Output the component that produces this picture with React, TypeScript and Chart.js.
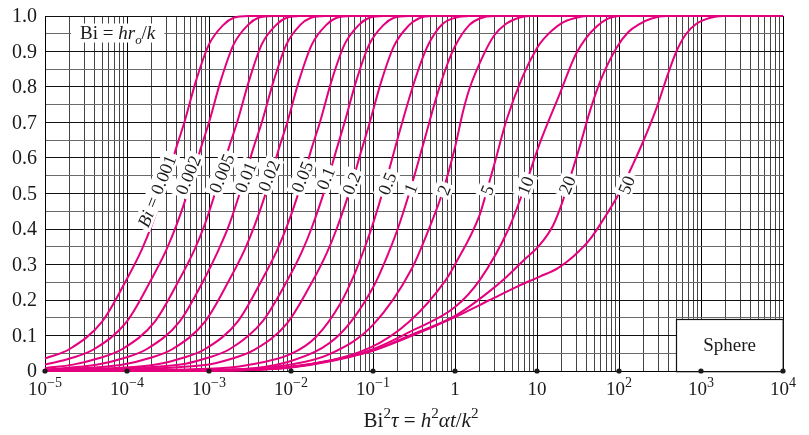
import React, { useEffect, useRef } from 'react';
import { Chart, registerables } from 'chart.js';

Chart.register(...registerables);

// ---------------- data ----------------
const biValues = ['0.001', '0.002', '0.005', '0.01', '0.02', '0.05', '0.1', '0.2', '0.5', '1', '2', '5', '10', '20', '50'];

const curveBi0_001: [number, number][] = [[1e-5, 0.035], [2e-5, 0.062], [5e-5, 0.14], [1e-4, 0.26], [1.5e-4, 0.34], [2e-4, 0.41], [3e-4, 0.53], [4e-4, 0.63], [5e-4, 0.70], [7e-4, 0.82], [1e-3, 0.92], [1.5e-3, 0.975], [2e-3, 0.995], [3e-3, 1], [1e4, 1]];
const curveBi0_002: [number, number][] = [[1e-5, 0.018], [2e-5, 0.035], [4e-5, 0.062], [1e-4, 0.14], [2e-4, 0.26], [3e-4, 0.34], [4e-4, 0.41], [6e-4, 0.53], [8e-4, 0.63], [1e-3, 0.70], [1.4e-3, 0.82], [2e-3, 0.92], [3e-3, 0.975], [4e-3, 0.995], [6e-3, 1], [1e4, 1]];
const curveBi0_005: [number, number][] = [[1e-5, 0.008], [2.2e-5, 0.018], [4.4e-5, 0.035], [8.8e-5, 0.062], [2.2e-4, 0.14], [4.4e-4, 0.26], [6.6e-4, 0.34], [8.8e-4, 0.41], [1.3e-3, 0.53], [1.75e-3, 0.63], [2.2e-3, 0.70], [3.1e-3, 0.82], [4.4e-3, 0.92], [6.6e-3, 0.975], [8.8e-3, 0.995], [1.3e-2, 1], [1e4, 1]];
const curveBi0_01: [number, number][] = [[1e-5, 0.004], [4.4e-5, 0.018], [8.8e-5, 0.035], [1.75e-4, 0.062], [4.4e-4, 0.14], [8.8e-4, 0.26], [1.3e-3, 0.34], [1.75e-3, 0.41], [2.6e-3, 0.53], [3.5e-3, 0.63], [4.4e-3, 0.70], [6.2e-3, 0.82], [8.8e-3, 0.92], [1.3e-2, 0.975], [1.75e-2, 0.995], [2.6e-2, 1], [1e4, 1]];
const curveBi0_02: [number, number][] = [[1e-5, 0.002], [9e-5, 0.018], [1.8e-4, 0.035], [3.6e-4, 0.062], [9e-4, 0.14], [1.8e-3, 0.26], [2.7e-3, 0.34], [3.6e-3, 0.41], [5.4e-3, 0.53], [7.2e-3, 0.63], [9e-3, 0.70], [1.26e-2, 0.82], [1.8e-2, 0.92], [2.7e-2, 0.975], [3.6e-2, 0.995], [5.4e-2, 1], [1e4, 1]];
const curveBi0_05: [number, number][] = [[1e-5, 0.001], [2.25e-4, 0.018], [4.5e-4, 0.035], [9e-4, 0.062], [2.25e-3, 0.14], [4.5e-3, 0.26], [6.75e-3, 0.34], [9e-3, 0.41], [1.35e-2, 0.53], [1.8e-2, 0.63], [2.25e-2, 0.70], [3.15e-2, 0.82], [4.5e-2, 0.92], [6.75e-2, 0.975], [9e-2, 0.995], [0.135, 1], [1e4, 1]];
const curveBi0_1: [number, number][] = [[1e-5, 0.0005], [4.5e-4, 0.018], [9e-4, 0.035], [1.8e-3, 0.062], [4.5e-3, 0.14], [9e-3, 0.255], [1.35e-2, 0.335], [1.8e-2, 0.405], [2.7e-2, 0.525], [3.6e-2, 0.625], [4.5e-2, 0.70], [6.3e-2, 0.82], [9e-2, 0.92], [0.135, 0.975], [0.18, 0.995], [0.27, 1], [1e4, 1]];
const curveBi0_2: [number, number][] = [[1e-5, 0], [9e-4, 0.017], [1.8e-3, 0.033], [3.6e-3, 0.06], [9e-3, 0.135], [1.8e-2, 0.25], [2.7e-2, 0.33], [3.6e-2, 0.40], [5.4e-2, 0.52], [7.2e-2, 0.62], [9e-2, 0.695], [0.126, 0.815], [0.18, 0.915], [0.27, 0.972], [0.36, 0.993], [0.54, 1], [1e4, 1]];
const curveBi0_5: [number, number][] = [[1e-5, 0], [1e-3, 0.006], [3e-3, 0.017], [1e-2, 0.048], [2e-2, 0.095], [4e-2, 0.19], [6e-2, 0.275], [8e-2, 0.35], [0.1, 0.415], [0.15, 0.55], [0.2, 0.655], [0.3, 0.795], [0.4, 0.88], [0.5, 0.93], [0.7, 0.977], [1, 0.995], [1.5, 1], [1e4, 1]];
const curveBi1: [number, number][] = [[1e-5, 0], [1e-3, 0.003], [1e-2, 0.028], [4e-2, 0.105], [0.1, 0.235], [0.15, 0.325], [0.2, 0.40], [0.28, 0.505], [0.4, 0.63], [0.6, 0.775], [0.8, 0.862], [1, 0.915], [1.5, 0.975], [2, 0.993], [3, 1], [1e4, 1]];
const curveBi2: [number, number][] = [[1e-5, 0], [1e-3, 0.002], [1e-2, 0.018], [3e-2, 0.048], [0.1, 0.13], [0.3, 0.29], [0.5, 0.41], [0.72, 0.51], [1, 0.63], [1.25, 0.73], [1.5, 0.795], [2.17, 0.885], [3, 0.945], [4.2, 0.978], [6, 0.995], [8, 1], [1e4, 1]];
const curveBi5: [number, number][] = [[1e-5, 0], [1e-3, 0.001], [1e-2, 0.012], [9.1e-2, 0.065], [0.28, 0.14], [0.77, 0.256], [1, 0.30], [2, 0.44], [2.46, 0.51], [3, 0.58], [4.25, 0.707], [6.7, 0.83], [10, 0.91], [12, 0.935], [20, 0.98], [30, 0.995], [40, 1], [1e4, 1]];
const curveBi10: [number, number][] = [[1e-5, 0], [1e-3, 0.001], [1e-2, 0.011], [9.1e-2, 0.058], [0.28, 0.11], [1, 0.18], [2, 0.256], [4.5, 0.40], [7.2, 0.523], [10.8, 0.641], [18.9, 0.78], [30.2, 0.895], [53, 0.97], [100, 1], [1e4, 1]];
const curveBi20: [number, number][] = [[1e-5, 0], [1e-3, 0.001], [1e-2, 0.01], [9.1e-2, 0.055], [0.28, 0.10], [1, 0.155], [2.65, 0.225], [4.24, 0.265], [6.75, 0.31], [10.8, 0.355], [15.7, 0.41], [20, 0.47], [25, 0.54], [33, 0.63], [43.9, 0.73], [60, 0.82], [93, 0.91], [130, 0.955], [180, 0.978], [250, 0.993], [380, 1], [1e4, 1]];
const curveBi50: [number, number][] = [[1e-5, 0], [1e-3, 0.001], [3e-3, 0.004], [9.6e-3, 0.01], [2.45e-2, 0.026], [9.1e-2, 0.054], [0.25, 0.092], [1, 0.152], [2.65, 0.2], [6, 0.24], [10.8, 0.266], [18, 0.29], [27.5, 0.322], [43.9, 0.37], [70, 0.44], [100, 0.5], [150, 0.585], [200, 0.65], [286, 0.74], [400, 0.84], [501, 0.9], [650, 0.948], [879, 0.978], [1300, 0.995], [1850, 1], [1e4, 1]];

const curves = [curveBi0_001, curveBi0_002, curveBi0_005, curveBi0_01, curveBi0_02, curveBi0_05, curveBi0_1, curveBi0_2, curveBi0_5, curveBi1, curveBi2, curveBi5, curveBi10, curveBi20, curveBi50];

// label anchors along each curve (data units)
const labelX = [2.3e-4, 5.55e-4, 1.42e-3, 2.78e-3, 5.35e-3, 1.36e-2, 2.63e-2, 5.45e-2, 0.148, 0.286, 0.728, 2.46, 7.22, 23.2, 123];
const labelY = [0.507, 0.552, 0.557, 0.546, 0.55, 0.547, 0.543, 0.529, 0.528, 0.515, 0.51, 0.51, 0.523, 0.524, 0.524];

const yTickValues = [0, 0.1, 0.2, 0.3, 0.4, 0.5, 0.6, 0.7, 0.8, 0.9, 1.0];
const yTickLabels = ['0', '0.1', '0.2', '0.3', '0.4', '0.5', '0.6', '0.7', '0.8', '0.9', '1.0'];
const xDecadeExponents = [-5, -4, -3, -2, -1, 0, 1, 2, 3, 4];

const sphereBox = { x0: 500, x1: 1e4, y0: 0, y1: 0.147 };
const biNoteAnchor = { x: 7.7e-5, y: 0.952 };

// ---------------- styling ----------------
const PINK = '#e5007e';
const FONT = '"Liberation Serif", "Times New Roman", Times, serif';

type Seg = { t: string; it?: boolean; sup?: boolean; sub?: boolean };

function segFont(size: number, s: Seg, supRatio: number) {
  const sz = s.sup || s.sub ? size * supRatio : size;
  return `${s.it ? 'italic ' : ''}${sz}px ${FONT}`;
}
function measureRich(ctx: CanvasRenderingContext2D, segs: Seg[], size: number, supRatio = 0.68) {
  let w = 0;
  for (const s of segs) {
    ctx.font = segFont(size, s, supRatio);
    w += ctx.measureText(s.t).width;
  }
  return w;
}
function drawRich(ctx: CanvasRenderingContext2D, segs: Seg[], x: number, y: number, size: number, supRatio = 0.68) {
  let cx = x;
  ctx.textAlign = 'left';
  ctx.textBaseline = 'alphabetic';
  for (const s of segs) {
    ctx.font = segFont(size, s, supRatio);
    const dy = s.sup ? -size * 0.42 : s.sub ? size * 0.25 : 0;
    ctx.fillText(s.t, cx, y + dy);
    cx += ctx.measureText(s.t).width;
  }
}

const overlay = {
  id: 'overlay',
  afterDatasetsDraw(chart: any) {
    const { ctx, scales } = chart;
    const xs = scales.x;
    const ys = scales.y;
    ctx.save();
    // curve labels
    const lsize = 18;
    biValues.forEach((v, i) => {
      const segs: Seg[] = i === 0 ? [{ t: 'Bi', it: true }, { t: ' = ' }, { t: v }] : [{ t: v }];
      const cx = xs.getPixelForValue(labelX[i]);
      const cy = ys.getPixelForValue(labelY[i]);
      ctx.save();
      ctx.translate(cx, cy);
      ctx.rotate((-68 * Math.PI) / 180);
      const w = measureRich(ctx, segs, lsize);
      ctx.fillStyle = '#fff';
      ctx.fillRect(-w / 2 - 3, -lsize * 0.52, w + 6, lsize * 1.02);
      ctx.fillStyle = '#1a1a1a';
      drawRich(ctx, segs, -w / 2, lsize * 0.34, lsize);
      ctx.restore();
    });

    // Bi = hr_o/k note
    const nsize = 19;
    const nsegs: Seg[] = [{ t: 'Bi' }, { t: ' = ' }, { t: 'hr', it: true }, { t: 'o', it: true, sub: true }, { t: '/' }, { t: 'k', it: true }];
    const nw = measureRich(ctx, nsegs, nsize);
    const ncx = xs.getPixelForValue(biNoteAnchor.x);
    const ncy = ys.getPixelForValue(biNoteAnchor.y);
    ctx.fillStyle = '#fff';
    ctx.fillRect(ncx - nw / 2 - 9, ncy - 9.5, nw + 18, 19);
    ctx.fillStyle = '#1a1a1a';
    drawRich(ctx, nsegs, ncx - nw / 2, ncy + 6, nsize);

    // Sphere box
    const bx0 = xs.getPixelForValue(sphereBox.x0);
    const bx1 = xs.getPixelForValue(sphereBox.x1);
    const by0 = ys.getPixelForValue(sphereBox.y0);
    const by1 = ys.getPixelForValue(sphereBox.y1);
    ctx.fillStyle = '#fff';
    ctx.fillRect(bx0, by1, bx1 - bx0, by0 - by1);
    ctx.strokeStyle = '#111';
    ctx.lineWidth = 1.2;
    ctx.strokeRect(Math.round(bx0) + 0.5, Math.round(by1) + 0.5, bx1 - bx0, by0 - by1);
    ctx.fillStyle = '#1a1a1a';
    ctx.font = `19px ${FONT}`;
    ctx.textAlign = 'center';
    ctx.textBaseline = 'middle';
    ctx.fillText('Sphere', (bx0 + bx1) / 2, (by0 + by1) / 2 + 1);
    ctx.restore();
  },
  afterDraw(chart: any) {
    const { ctx, scales, chartArea } = chart;
    const xs = scales.x;
    const ys = scales.y;
    ctx.save();
    ctx.fillStyle = '#1a1a1a';
    // y tick labels
    ctx.font = `20px ${FONT}`;
    ctx.textAlign = 'right';
    ctx.textBaseline = 'middle';
    yTickValues.forEach((v, i) => {
      ctx.fillText(yTickLabels[i], chartArea.left - 8, ys.getPixelForValue(v) + 1);
    });
    // x tick labels and dots
    const tsize = 19;
    xDecadeExponents.forEach((k) => {
      const px = xs.getPixelForValue(Math.pow(10, k));
      let segs: Seg[];
      if (k === 0) segs = [{ t: '1' }];
      else if (k === 1) segs = [{ t: '10' }];
      else segs = [{ t: '10' }, { t: k < 0 ? '\u2212' + Math.abs(k) : String(k), sup: true }];
      const w = measureRich(ctx, segs, tsize, 0.74);
      ctx.fillStyle = '#1a1a1a';
      drawRich(ctx, segs, px - w / 2, chartArea.bottom + 24, tsize, 0.74);
      ctx.beginPath();
      ctx.arc(px, chartArea.bottom, 2.6, 0, Math.PI * 2);
      ctx.fill();
    });
    // axis title
    const asize = 21;
    const tsegs: Seg[] = [{ t: 'Bi' }, { t: '2', sup: true }, { t: '\u03c4', it: true }, { t: ' = ' }, { t: 'h', it: true }, { t: '2', sup: true }, { t: '\u03b1t', it: true }, { t: '/' }, { t: 'k', it: true }, { t: '2', sup: true }];
    const tw = measureRich(ctx, tsegs, asize, 0.72);
    drawRich(ctx, tsegs, 421 - tw / 2, 427, asize, 0.72);
    ctx.restore();
  },
};

function isDecade(v: number) {
  const l = Math.log10(v);
  return Math.abs(l - Math.round(l)) < 1e-6;
}

export default function App() {
  const ref = useRef<HTMLCanvasElement | null>(null);
  useEffect(() => {
    if (!ref.current) return;
    const gridX: number[] = [];
    for (let k = -5; k < 4; k++) for (let m = 1; m < 10; m++) gridX.push(m * Math.pow(10, k));
    gridX.push(1e4);
    const gridY: number[] = [];
    for (let i = 0; i <= 20; i++) gridY.push(i * 0.05);

    const chart = new Chart(ref.current, {
      type: 'line',
      data: {
        datasets: curves.map((c, i) => ({
          label: 'Bi = ' + biValues[i],
          data: c.map(([x, y]) => ({ x, y })),
          borderColor: PINK,
          borderWidth: 2,
          pointRadius: 0,
          fill: false,
          cubicInterpolationMode: 'monotone' as const,
          clip: false as any,
        })),
      },
      options: {
        responsive: false,
        animation: false,
        events: [],
        layout: { padding: { left: 45, top: 16, right: 26, bottom: 64 } },
        plugins: { legend: { display: false }, tooltip: { enabled: false } },
        scales: {
          x: {
            type: 'logarithmic',
            min: 1e-5,
            max: 1e4,
            afterBuildTicks: (scale: any) => {
              scale.ticks = gridX.map((v) => ({ value: v }));
            },
            ticks: { display: false },
            grid: {
              drawTicks: false,
              lineWidth: 1,
              color: (ctx: any) => (ctx.tick && isDecade(ctx.tick.value) ? '#000' : '#444'),
            },
            border: { display: true, color: '#000', width: 1 },
          },
          y: {
            type: 'linear',
            min: 0,
            max: 1,
            afterBuildTicks: (scale: any) => {
              scale.ticks = gridY.map((v) => ({ value: v }));
            },
            ticks: { display: false },
            grid: {
              drawTicks: false,
              lineWidth: 1,
              color: (ctx: any) => (ctx.index % 2 === 0 ? '#111' : '#6a6a6a'),
            },
            border: { display: true, color: '#000', width: 1 },
          },
        },
      },
      plugins: [overlay],
    } as any);
    return () => chart.destroy();
  }, []);

  return (
    <div style={{ position: 'fixed', left: 0, top: 0, width: 809, height: 435, background: '#fff' }}>
      <canvas ref={ref} width={809} height={435} style={{ display: 'block' }} />
    </div>
  );
}
